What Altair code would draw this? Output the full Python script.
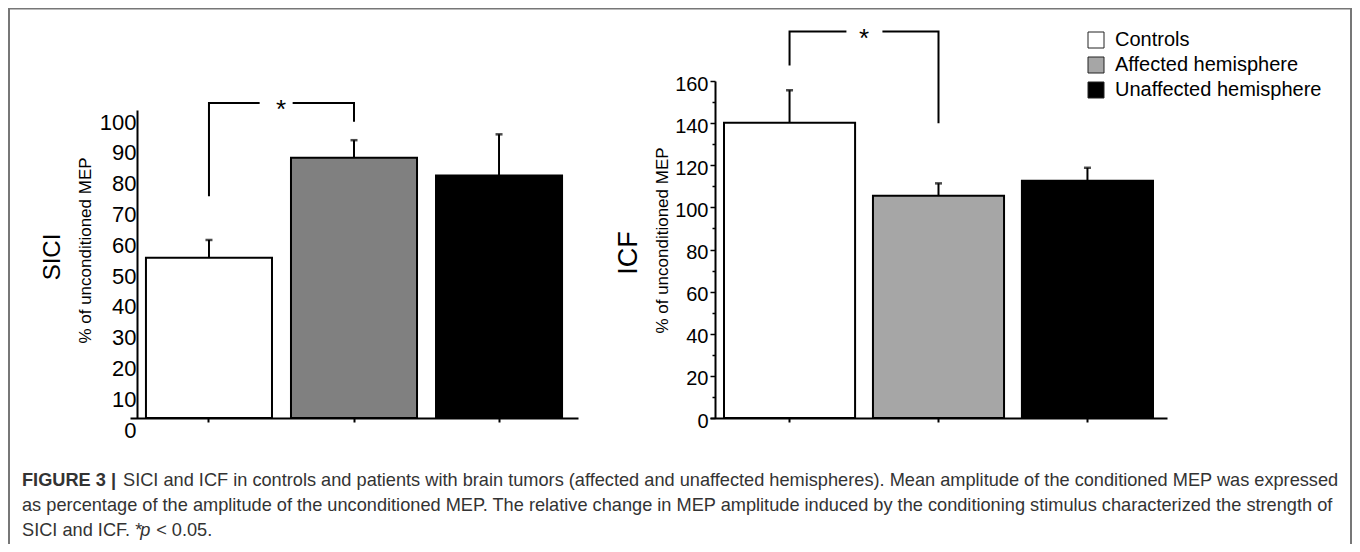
import altair as alt
import pandas as pd

FONT = "Liberation Sans, Arial, sans-serif"

groups = ["Controls", "Affected hemisphere", "Unaffected hemisphere"]

# SICI panel
sici_mean = [52.0, 84.5, 78.7]
sici_err_top = [57.8, 90.2, 92.1]
sici_ticks = [0, 10, 20, 30, 40, 50, 60, 70, 80, 90, 100]
sici_bracket_groups = ["Controls", "Controls", "Affected hemisphere", "Affected hemisphere"]
sici_bracket_y = [72.0, 102.3, 102.3, 96.2]

# ICF panel
icf_mean = [140.2, 105.5, 112.6]
icf_err_top = [155.6, 111.4, 118.8]
icf_ticks = [0, 20, 40, 60, 80, 100, 120, 140, 160]
icf_minor_ticks = [10, 30, 50, 70, 90, 110, 130, 150]
icf_bracket_groups = ["Controls", "Controls", "Affected hemisphere", "Affected hemisphere"]
icf_bracket_y = [167.3, 183.5, 183.5, 139.9]

sici_colors = ["white", "#808080", "black"]
icf_colors = ["white", "#a6a6a6", "black"]

caption_bold = "FIGURE 3 |"
caption_line1 = ("SICI and ICF in controls and patients with brain tumors (affected and unaffected "
                 "hemispheres). Mean amplitude of the conditioned MEP was expressed")
caption_line2 = ("as percentage of the amplitude of the unconditioned MEP. The relative change in MEP "
                 "amplitude induced by the conditioning stimulus characterized the strength of")
caption_line3a = "SICI and ICF. *"
caption_line3b = "p"
caption_line3c = "< 0.05."

left_df = pd.DataFrame({"group": groups, "value": sici_mean, "top": sici_err_top})
right_df = pd.DataFrame({"group": groups, "value": icf_mean, "top": icf_err_top})
left_br = pd.DataFrame({"group": sici_bracket_groups, "value": sici_bracket_y, "seq": [0, 1, 2, 3]})
right_br = pd.DataFrame({"group": icf_bracket_groups, "value": icf_bracket_y, "seq": [0, 1, 2, 3]})
left_star = pd.DataFrame({"group": ["Controls"], "value": [sici_bracket_y[1]], "label": ["*"]})
right_star = pd.DataFrame({"group": ["Controls"], "value": [icf_bracket_y[1]], "label": ["*"]})
minor_df = pd.DataFrame({"minor": icf_minor_ticks})

H = 410
W = 1215
PAD_BOTTOM = 126

x_axis_kw = dict(orient="bottom", labels=False, title=None, ticks=True, tickSize=4, tickWidth=2,
                 tickColor="black", domainColor="black", domainWidth=2, grid=False)

L_PI, L_PO = 0.131, 0.11
R_PI, R_PO = 0.12, 0.094
L_RANGE = [-7, 441]
R_RANGE = [573, 1030]


def xenc(rng, pi, po, band=None):
    kw = {}
    if band is not None:
        kw["bandPosition"] = band
    return alt.X("group:N", sort=groups,
                 scale=alt.Scale(domain=groups, range=rng, paddingInner=pi, paddingOuter=po),
                 axis=alt.Axis(**x_axis_kw), **kw)


def yL_scale():
    return alt.Scale(domain=[0, 100], range=[H, 102], nice=False, zero=True)


def yL_axis():
    return alt.Axis(orient="left", values=sici_ticks, ticks=False, labelPadding=1,
                    labelFontSize=22, labelFont=FONT, labelColor="black",
                    labelBaseline="top", labelOffset=2, grid=False,
                    domainColor="black", domainWidth=2,
                    title="% of unconditioned MEP", titleFont=FONT, titleFontSize=17,
                    titleFontWeight="normal", titleColor="black", titleX=-52, titleY=242,
                    titleBaseline="middle", titleAngle=270)


def yR_scale():
    return alt.Scale(domain=[0, 160], range=[H, 73], nice=False, zero=True)


def yR_axis():
    return alt.Axis(orient="left", offset=-578, values=icf_ticks, ticks=True, tickSize=5,
                    tickWidth=1.5, tickColor="black", labelPadding=2,
                    labelFontSize=20, labelFont=FONT, labelColor="black",
                    labelBaseline="middle", labelOffset=3, grid=False,
                    domainColor="black", domainWidth=2,
                    title="% of unconditioned MEP", titleFont=FONT, titleFontSize=17,
                    titleFontWeight="normal", titleColor="black", titleX=-53, titleY=232,
                    titleBaseline="middle", titleAngle=270)


def yL(field="value"):
    return alt.Y(f"{field}:Q", scale=yL_scale(), axis=yL_axis())


def yR(field="value"):
    return alt.Y(f"{field}:Q", scale=yR_scale(), axis=yR_axis())


left_bars = alt.Chart(left_df).mark_bar(stroke="black", strokeWidth=2).encode(
    x=xenc(L_RANGE, L_PI, L_PO), y=yL(),
    fill=alt.Fill("group:N", scale=alt.Scale(domain=groups, range=sici_colors), legend=None))
left_err = alt.Chart(left_df).mark_rule(color="black", strokeWidth=2).encode(
    x=xenc(L_RANGE, L_PI, L_PO), y=yL(), y2="top")
left_cap = alt.Chart(left_df).mark_tick(color="black", size=7, thickness=2.5, orient="horizontal").encode(
    x=xenc(L_RANGE, L_PI, L_PO), y=yL("top"))
left_bracket = alt.Chart(left_br).mark_line(color="black", strokeWidth=2, strokeDash=[144, 33, 300]).encode(
    x=xenc(L_RANGE, L_PI, L_PO), y=yL(), order="seq:Q")
left_asterisk = alt.Chart(left_star).mark_text(fontSize=26, font=FONT, baseline="middle", dy=7, dx=9,
                                               color="black").encode(
    x=xenc(L_RANGE, L_PI, L_PO, band=1), y=yL(), text="label:N")
left_panel = alt.layer(left_bars, left_err, left_cap, left_bracket, left_asterisk)

right_bars = alt.Chart(right_df).mark_bar(stroke="black", strokeWidth=2).encode(
    x=xenc(R_RANGE, R_PI, R_PO), y=yR(),
    fill=alt.Fill("group:N", scale=alt.Scale(domain=groups, range=icf_colors),
                  legend=alt.Legend(title=None, orient="none", legendX=949, legendY=22,
                                    symbolType="square", symbolSize=256,
                                    symbolStrokeColor="#222", symbolStrokeWidth=1,
                                    labelFontSize=20, labelFont=FONT, labelColor="black",
                                    labelLimit=400, rowPadding=5, labelOffset=9, padding=0)))
right_err = alt.Chart(right_df).mark_rule(color="black", strokeWidth=2).encode(
    x=xenc(R_RANGE, R_PI, R_PO), y=yR(), y2="top")
right_cap = alt.Chart(right_df).mark_tick(color="black", size=7, thickness=2.5, orient="horizontal").encode(
    x=xenc(R_RANGE, R_PI, R_PO), y=yR("top"))
right_bracket = alt.Chart(right_br).mark_line(color="black", strokeWidth=2, strokeDash=[91, 36, 300]).encode(
    x=xenc(R_RANGE, R_PI, R_PO), y=yR(), order="seq:Q")
right_asterisk = alt.Chart(right_star).mark_text(fontSize=26, font=FONT, baseline="middle", dy=7, dx=9,
                                                 color="black").encode(
    x=xenc(R_RANGE, R_PI, R_PO, band=1), y=yR(), text="label:N")
right_panel = alt.layer(right_bars, right_err, right_cap, right_bracket, right_asterisk)

minor_layer = alt.Chart(minor_df).mark_point(opacity=0).encode(
    y=alt.Y("minor:Q", scale=yR_scale(),
            axis=alt.Axis(orient="left", offset=-578, values=icf_minor_ticks, labels=False,
                          ticks=True, tickSize=3, tickWidth=1.5, tickColor="black",
                          domain=False, grid=False, title=None)))

sici_label = alt.Chart().mark_text(angle=270, fontSize=24, font=FONT, color="black",
                                   align="center", baseline="middle").encode(
    x=alt.value(-84), y=alt.value(249), text=alt.value("SICI"))
icf_label = alt.Chart().mark_text(angle=270, fontSize=27, font=FONT, color="black",
                                  align="center", baseline="middle").encode(
    x=alt.value(492), y=alt.value(245), text=alt.value("ICF"))

cap_color = "#333333"
CAP_FS = 18.2
CAP_X = -115
L1_Y, L2_Y, L3_Y = 473, 498, 523
P_X = CAP_X + 6.5 * CAP_FS


def cap_text(txt, x, y, **kw):
    return alt.Chart().mark_text(fontSize=CAP_FS, font=FONT, color=cap_color,
                                 align="left", baseline="middle", **kw).encode(
        x=alt.value(x), y=alt.value(y), text=alt.value(txt))


cap_layers = [
    cap_text(caption_bold, CAP_X, L1_Y, fontWeight="bold"),
    cap_text(caption_line1, -14, L1_Y),
    cap_text(caption_line2, CAP_X, L2_Y),
    cap_text(caption_line3a, CAP_X, L3_Y),
    cap_text(caption_line3b, P_X, L3_Y, fontStyle="italic"),
    cap_text(caption_line3c, P_X + 0.87 * CAP_FS, L3_Y),
]

border_color = "#777777"
b_left = alt.Chart().mark_rule(color=border_color, strokeWidth=2).encode(
    x=alt.value(-128), y=alt.value(0), y2=alt.value(H + PAD_BOTTOM))
b_top = alt.Chart().mark_rule(color=border_color, strokeWidth=1.5).encode(
    x=alt.value(-128), x2=alt.value(1214), y=alt.value(0.75))
b_right = alt.Chart().mark_rule(color=border_color, strokeWidth=2).encode(
    x=alt.value(1214), y=alt.value(0), y2=alt.value(H + PAD_BOTTOM))

chart = alt.layer(
    left_panel, right_panel, minor_layer,
    sici_label, icf_label, *cap_layers, b_left, b_top, b_right,
).resolve_scale(
    x="independent", y="independent", fill="independent"
).properties(
    width=W, height=H,
    autosize=alt.AutoSizeParams(type="none"),
    padding={"left": 129, "top": 0, "right": 0, "bottom": PAD_BOTTOM},
    background="white",
).configure_view(stroke=None)

chart.save("out.html", embed_options={"renderer": "svg", "actions": False})
